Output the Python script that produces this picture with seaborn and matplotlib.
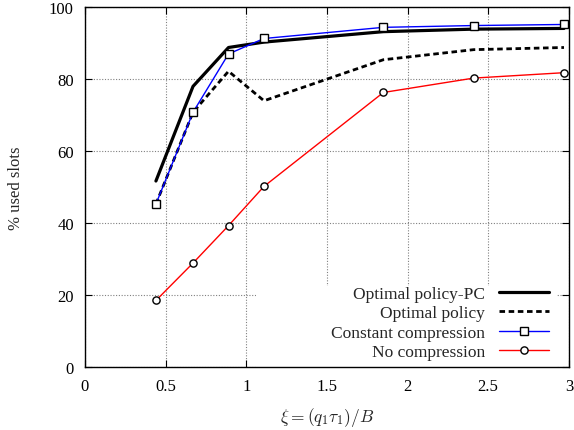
import matplotlib
matplotlib.use("Agg")
import matplotlib.pyplot as plt
from matplotlib.patches import Rectangle
import seaborn as sns
import pandas as pd

# Normalised load values and the percentage of used slots per policy
xi = [0.44, 0.67, 0.89, 1.11, 1.85, 2.41, 2.97]
optimal_pc = [51.7, 78.0, 88.8, 90.3, 93.2, 93.9, 94.1]
optimal = [45.3, 70.8, 82.2, 74.0, 85.4, 88.2, 88.8]
constant_comp = [45.3, 70.8, 87.0, 91.3, 94.4, 94.9, 95.2]
no_comp = [18.5, 28.9, 39.3, 50.2, 76.3, 80.3, 81.8]

series_names = ["Optimal policy-PC", "Optimal policy", "Constant compression", "No compression"]
x_ticks = [0, 0.5, 1, 1.5, 2, 2.5, 3]
x_tick_labels = ["0", "0.5", "1", "1.5", "2", "2.5", "3"]
y_ticks = [0, 20, 40, 60, 80, 100]

sns.set_style("ticks")
plt.rcParams["font.family"] = ["Liberation Serif", "DejaVu Serif"]
plt.rcParams["mathtext.fontset"] = "cm"

df = pd.DataFrame({
    "xi": xi * 4,
    "used": optimal_pc + optimal + constant_comp + no_comp,
    "series": sum([[n] * len(xi) for n in series_names], []),
})

fig = plt.figure(figsize=(5.74, 4.31), dpi=100)
ax = fig.add_axes([0.148, 0.146, 0.843, 0.835])

styles = {
    "Optimal policy-PC": dict(color="black", lw=2.3, ls="-", marker=None),
    "Optimal policy": dict(color="black", lw=2.0, ls=(0, (2, 1.3)), marker=None),
    "Constant compression": dict(color="#0000ff", lw=1.0, ls="-", marker="s"),
    "No compression": dict(color="#ff0000", lw=1.0, ls="-", marker="o"),
}

for name in series_names:
    st = styles[name]
    sub = df[df["series"] == name]
    kw = dict(color=st["color"], linewidth=st["lw"], linestyle=st["ls"], label=name, ax=ax)
    if st["marker"]:
        kw.update(marker=st["marker"], markersize=5.2, markerfacecolor="white",
                  markeredgecolor="black", markeredgewidth=1.0)
    sns.lineplot(data=sub, x="xi", y="used", **kw)

ax.set_xlim(0, 3)
ax.set_ylim(0, 100)
ax.set_xticks(x_ticks)
ax.set_xticklabels(x_tick_labels)
ax.set_yticks(y_ticks)
ax.tick_params(direction="in", length=5, width=0.8, top=True, right=True,
               labelsize=12, pad=8, colors="black")
ax.grid(True, linestyle=(0, (1, 1.5)), color="#808080", linewidth=0.8)
ax.set_axisbelow(True)
for sp in ax.spines.values():
    sp.set_linewidth(1.0)
    sp.set_color("black")

ax.set_xlabel(r"$\xi = (q_1\tau_1)/B$", fontsize=12.5, labelpad=8)
ax.set_ylabel("% used slots", fontsize=12, labelpad=18)

# white key area that hides the grid behind the legend
ax.add_patch(Rectangle((0.353, 0.0), 0.622, 0.225, transform=ax.transAxes,
                       facecolor="white", edgecolor="none", zorder=1))

leg = ax.legend(loc="lower right", bbox_to_anchor=(0.969, 0.008), frameon=False,
                markerfirst=False, fontsize=12.5, handlelength=2.9,
                handletextpad=0.8, labelspacing=0.18, borderaxespad=0.0,
                borderpad=0.25)
for t in leg.get_texts():
    t.set_ha("right")

fig.savefig("out.png", dpi=100)
